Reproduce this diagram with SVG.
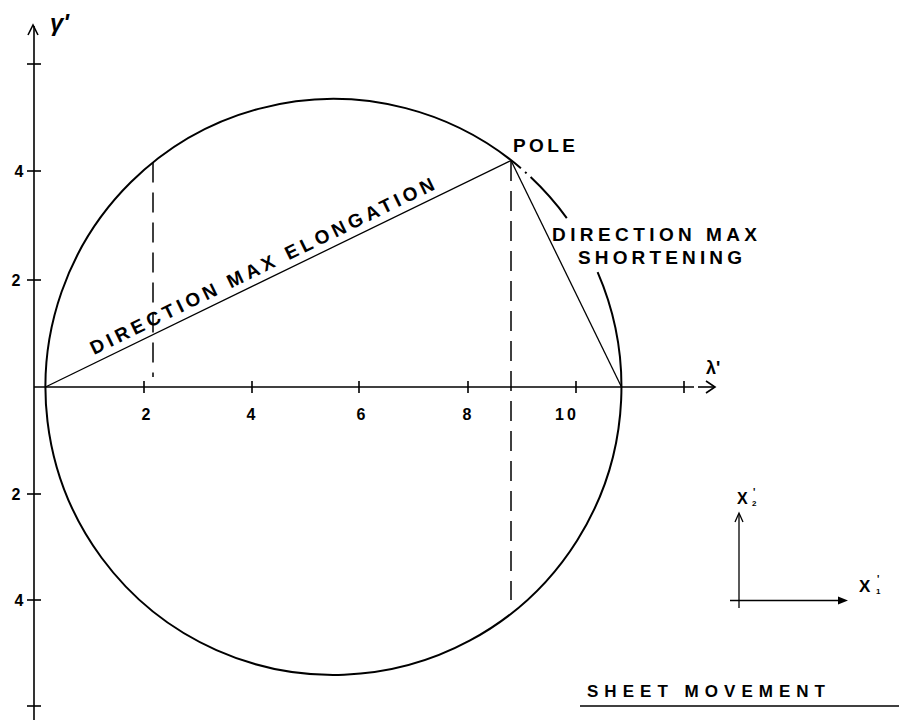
<svg xmlns="http://www.w3.org/2000/svg" width="899" height="720" viewBox="0 0 899 720">
<style>
.ax{stroke:#000;stroke-width:1.6;fill:none}
.thin{stroke:#000;stroke-width:1.3;fill:none}
.circ{stroke:#000;stroke-width:2;fill:none}
.dash{stroke:#000;stroke-width:1.5;fill:none;stroke-dasharray:20 10}
.lbl{font-family:"Liberation Sans",Arial,sans-serif;font-weight:bold;fill:#000}
.num{font-family:"Liberation Sans",Arial,sans-serif;font-weight:bold;font-size:16px;fill:#000}
</style>
<rect width="899" height="720" fill="#fff"/>
<g id="connectors">
  <line class="ax" x1="34" y1="26" x2="34" y2="720"/>
  <polyline class="ax" points="28,35 33,25 38,35"/>
  <line class="ax" x1="34" y1="387" x2="694" y2="387"/>
  <line class="ax" x1="698" y1="387" x2="714" y2="387"/>
  <polyline class="ax" points="706,381 715,387 706,393"/>
  <g class="ax">
    <line x1="27" y1="64" x2="41" y2="64"/>
    <line x1="27" y1="171" x2="41" y2="171"/>
    <line x1="27" y1="280" x2="41" y2="280"/>
    <line x1="27" y1="494" x2="41" y2="494"/>
    <line x1="27" y1="600" x2="41" y2="600"/>
    <line x1="27" y1="706" x2="41" y2="706"/>
  </g>
  <g class="ax">
    <line x1="144" y1="381" x2="144" y2="393"/>
    <line x1="252" y1="381" x2="252" y2="393"/>
    <line x1="359" y1="381" x2="359" y2="393"/>
    <line x1="468" y1="381" x2="468" y2="393"/>
    <line x1="576" y1="381" x2="576" y2="393"/>
    <line x1="684" y1="381" x2="684" y2="393"/>
  </g>
  <path class="circ" d="M597.6,272.2 A288,288 0 1 1 520.9,168.3"/>
  <path class="circ" d="M525.1,172.0 A288,288 0 0 1 526.6,173.3"/>
  <path class="circ" d="M530.6,177.0 A288,288 0 0 1 566.8,218.1"/>
  <line class="thin" x1="45.5" y1="387" x2="511" y2="160.5"/>
  <line class="thin" x1="511" y1="160.5" x2="621.5" y2="387"/>
  <line class="dash" x1="153" y1="162.6" x2="153" y2="377"/>
  <line class="dash" x1="511" y1="161" x2="511" y2="600"/>
  <line class="thin" x1="739" y1="608" x2="739" y2="514"/>
  <polyline class="thin" points="735,522 739,513 743,522"/>
  <line class="thin" x1="730" y1="600.5" x2="840" y2="600.5"/>
  <polygon points="838,596.5 848,600.5 838,604.5" fill="#000"/>
  <line class="ax" x1="580" y1="706" x2="899" y2="706"/>
</g>
<g id="axis-labels">
  <text class="lbl" x="50" y="31" font-size="24" font-style="italic" font-weight="normal">γ'</text>
  <text class="lbl" x="706" y="374" font-size="18" font-weight="normal">λ'</text>
  <text class="num" x="19" y="177" text-anchor="middle">4</text>
  <text class="num" x="16" y="286" text-anchor="middle">2</text>
  <text class="num" x="16" y="500" text-anchor="middle">2</text>
  <text class="num" x="19" y="606" text-anchor="middle">4</text>
  <text class="num" x="146" y="420" text-anchor="middle">2</text>
  <text class="num" x="251" y="420" text-anchor="middle">4</text>
  <text class="num" x="361" y="420" text-anchor="middle">6</text>
  <text class="num" x="467" y="420" text-anchor="middle">8</text>
  <text class="num" x="567" y="420" text-anchor="middle" letter-spacing="3">10</text>
</g>
<g id="pole">
  <text class="lbl" x="513" y="152" font-size="19" textLength="62" lengthAdjust="spacing">POLE</text>
</g>
<g id="elongation">
  <text class="lbl" x="94" y="355" font-size="19" textLength="380" lengthAdjust="spacing" transform="rotate(-25.92 94 355)">DIRECTION MAX ELONGATION</text>
</g>
<g id="shortening">
  <text class="lbl" x="552" y="241" font-size="19" textLength="205" lengthAdjust="spacing">DIRECTION MAX</text>
  <text class="lbl" x="578" y="264" font-size="19" textLength="164" lengthAdjust="spacing">SHORTENING</text>
</g>
<g id="sheet-axes">
  <text class="lbl" x="737" y="504" font-size="16">X</text>
  <text class="lbl" x="752" y="506" font-size="8">2</text>
  <text class="lbl" x="753" y="496" font-size="10">'</text>
  <text class="lbl" x="859" y="592" font-size="17">X</text>
  <text class="lbl" x="876" y="594" font-size="8">1</text>
  <text class="lbl" x="877" y="583" font-size="10">'</text>
</g>
<g id="sheet-movement">
  <text class="lbl" x="587" y="697" font-size="17" textLength="238" lengthAdjust="spacing">SHEET MOVEMENT</text>
</g>
</svg>
